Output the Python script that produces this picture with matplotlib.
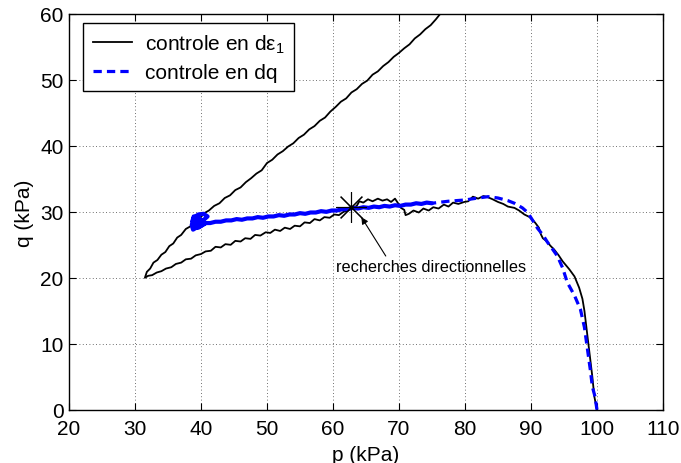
import matplotlib.pyplot as plt
import numpy as np

plt.rcParams['font.family'] = ['Liberation Sans', 'DejaVu Sans']
plt.rcParams['mathtext.fontset'] = 'custom'
plt.rcParams['mathtext.rm'] = 'Liberation Sans'
plt.rcParams['mathtext.it'] = 'Liberation Sans:italic'

# essai pilote en deformation axiale (d eps1): charge, decharge puis rechargement
p_eps = [100.0, 99.6, 99.3, 99.0, 98.7, 98.4, 98.1, 97.8, 97.3, 96.6, 95.8, 94.8, 94.2,
         93.5, 93.0, 92.3, 91.8, 91.5, 91.2, 90.6, 89.8, 89.0, 88.2, 87.5, 86.5, 85.8,
         85.0, 84.2, 83.5, 82.8, 82.0, 81.2, 80.5, 79.9, 79.0, 78.2, 77.5, 76.8, 76.0,
         75.2, 74.5, 73.7, 73.0, 72.2, 71.5, 71.0, 70.8, 70.3, 69.8, 69.4, 68.8, 68.2,
         67.5, 66.8, 66.0, 65.3, 64.6, 64.0, 63.6, 63.0, 62.3, 61.6, 60.9, 60.2, 59.5,
         58.7, 58.0, 57.2, 56.5, 55.7, 55.0, 54.2, 53.5, 52.7, 52.0, 51.2, 50.5, 49.8,
         49.0, 48.2, 47.5, 46.7, 46.0, 45.2, 44.5, 43.7, 43.0, 42.2, 41.5, 40.7, 40.0,
         39.2, 38.5, 37.7, 37.0, 36.2, 35.5, 34.7, 34.0, 33.3, 32.6, 32.0, 31.5,
         31.8, 32.3, 32.8, 33.4, 34.0, 34.6, 35.2, 35.8, 36.4, 37.0, 37.7, 38.4, 39.1,
         39.8, 40.5, 41.2, 42.0, 42.8, 43.6, 44.4, 45.2, 46.0, 46.8, 47.6, 48.4, 49.2,
         50.0, 50.8, 51.6, 52.4, 53.2, 54.0, 54.8, 55.6, 56.4, 57.2, 58.0, 58.8, 59.6,
         60.4, 61.2, 62.0, 62.8, 63.6, 64.4, 65.2, 66.0, 66.8, 67.6, 68.4, 69.2, 70.0,
         70.8, 71.6, 72.4, 73.2, 74.0, 74.8, 75.6, 76.4]
q_eps = [0.0, 2.0, 5.0, 7.5, 10.0, 12.5, 15.0, 16.8, 18.5, 20.2, 21.3, 22.5, 23.4,
         24.3, 24.8, 25.6, 26.0, 26.6, 27.6, 28.4, 29.2, 29.6, 30.2, 30.6, 30.8, 31.2,
         31.5, 31.9, 32.2, 32.4, 32.0, 32.3, 31.6, 31.5, 31.2, 31.4, 30.8, 31.1, 30.5,
         30.7, 30.2, 30.5, 29.9, 30.2, 29.7, 29.5, 30.3, 30.6, 31.4, 32.0, 31.5, 31.9,
         31.7, 32.0, 31.6, 31.9, 31.4, 31.6, 30.9, 30.6, 30.2, 30.0, 29.5, 29.6, 29.1,
         29.2, 28.7, 28.9, 28.3, 28.4, 27.8, 27.9, 27.4, 27.6, 27.1, 27.3, 26.8, 26.9,
         26.4, 26.5, 25.9, 26.0, 25.5, 25.6, 25.0, 25.1, 24.6, 24.7, 24.1, 24.0, 23.6,
         23.4, 22.9, 22.8, 22.3, 22.1, 21.6, 21.4, 21.0, 20.8, 20.4, 20.3, 20.0,
         20.9, 21.4, 22.3, 22.7, 23.5, 23.9, 24.8, 25.2, 26.1, 26.5, 27.4, 27.8, 28.7,
         29.0, 29.8, 30.2, 30.9, 31.3, 32.1, 32.5, 33.3, 33.7, 34.5, 35.1, 35.8, 36.3,
         37.4, 37.9, 38.7, 39.2, 39.9, 40.4, 41.2, 41.7, 42.5, 43.0, 43.8, 44.3, 45.2,
         45.9, 46.7, 47.2, 48.1, 48.6, 49.4, 49.9, 50.8, 51.3, 52.1, 52.7, 53.5, 54.1,
         54.8, 55.4, 56.3, 56.9, 57.7, 58.3, 59.2, 60.2]

# essai pilote en contrainte deviatoire (dq)
p_dq = [100.0, 99.7, 99.3, 99.0, 98.5, 98.1, 97.5, 96.6, 95.5, 94.8, 94.0, 93.3, 92.5,
        91.8, 91.0, 90.2, 89.5, 88.7, 87.5, 86.5, 85.0, 83.5, 82.0, 80.0, 77.4, 75.0,
        74.2, 73.4, 72.6, 71.8, 71.0, 70.2, 69.4, 68.6, 67.8, 67.0, 66.2, 65.4, 64.6,
        63.8, 63.0, 62.2, 61.4, 60.6, 59.8, 59.0, 58.2, 57.4, 56.6, 55.8, 55.0, 54.2,
        53.4, 52.6, 51.8, 51.0, 50.2, 49.4, 48.6, 47.8, 47.0, 46.2, 45.4, 44.6, 43.8,
        43.0, 42.2, 41.4, 40.6, 40.0, 39.3, 38.8, 38.6, 38.9, 39.6, 40.4, 41.0, 40.2,
        39.3, 38.7, 38.9, 39.8, 40.6, 39.6, 38.8, 39.2, 40.3]
q_dq = [0.0, 2.0, 3.5, 6.0, 9.6, 12.5, 15.2, 17.3, 19.3, 21.5, 23.3, 24.3, 25.4,
        26.5, 27.5, 28.8, 29.9, 30.6, 31.3, 31.7, 32.1, 32.3, 32.1, 31.8, 31.6, 31.3,
        31.4, 31.2, 31.3, 31.1, 31.1, 30.9, 31.0, 30.8, 30.9, 30.7, 30.8, 30.6, 30.7,
        30.5, 30.6, 30.4, 30.4, 30.2, 30.2, 30.0, 30.1, 29.9, 29.9, 29.7, 29.8, 29.6,
        29.6, 29.4, 29.5, 29.3, 29.3, 29.1, 29.2, 29.0, 29.0, 28.8, 28.9, 28.7, 28.7,
        28.5, 28.5, 28.3, 28.3, 27.9, 27.6, 27.3, 28.0, 29.1, 29.6, 29.7, 29.3, 28.6,
        28.2, 28.6, 29.3, 29.0, 28.2, 27.6, 27.8, 28.8, 28.5]

# point des recherches directionnelles
star_p, star_q = 62.7, 30.7

fig = plt.figure(figsize=(6.81, 4.64), dpi=100)
ax = fig.add_axes([0.1013, 0.1149, 0.8722, 0.8528])

ax.plot(p_eps, q_eps, color='k', lw=1.3, label=r'controle en d$\mathrm{ε}_1$', zorder=3)

# la partie bruitee du trace dq apparait pleine, la partie lisse en tirets
split = 25
ax.plot(p_dq[split:], q_dq[split:], color='b', lw=3.0, solid_capstyle='round', zorder=4)
ax.plot(p_dq[:split + 1], q_dq[:split + 1], color='b', lw=2.3, ls=(0, (2.6, 1.6)),
        label='controle en dq', zorder=4)

ax.plot(star_p, star_q, marker=(8, 2, 0), ms=22, mew=0.8, color='k', zorder=5)
ax.annotate('', xy=(64.3, 29.2), xytext=(68.0, 23.3),
            arrowprops=dict(arrowstyle='-|>', color='k', lw=0.8, mutation_scale=10,
                            shrinkA=0, shrinkB=0))
ax.text(74.8, 21.7, 'recherches directionnelles', fontsize=11.7, ha='center', va='center')

ax.set_xlim(20, 110)
ax.set_ylim(0, 60)
ax.set_xticks(np.arange(20, 111, 10))
ax.set_yticks(np.arange(0, 61, 10))
ax.tick_params(direction='in', length=5, width=0.8, top=True, right=True, labelsize=15)
ax.tick_params(axis='x', pad=6.5)
ax.tick_params(axis='y', pad=4)
ax.grid(True, color='0.25', lw=0.6, ls=(0, (1, 3)))
for s in ax.spines.values():
    s.set_linewidth(1.0)

ax.set_xlabel('p (kPa)', fontsize=15, labelpad=5)
ax.set_ylabel('q (kPa)', fontsize=15, labelpad=4)

leg = ax.legend(loc='upper left', bbox_to_anchor=(0.024, 0.977), borderaxespad=0,
                fontsize=15, handlelength=1.9, handletextpad=0.6, fancybox=False,
                framealpha=1, edgecolor='k', borderpad=0.45, labelspacing=0.4)
leg.get_frame().set_linewidth(1.0)

fig.savefig('out.png', dpi=100)
